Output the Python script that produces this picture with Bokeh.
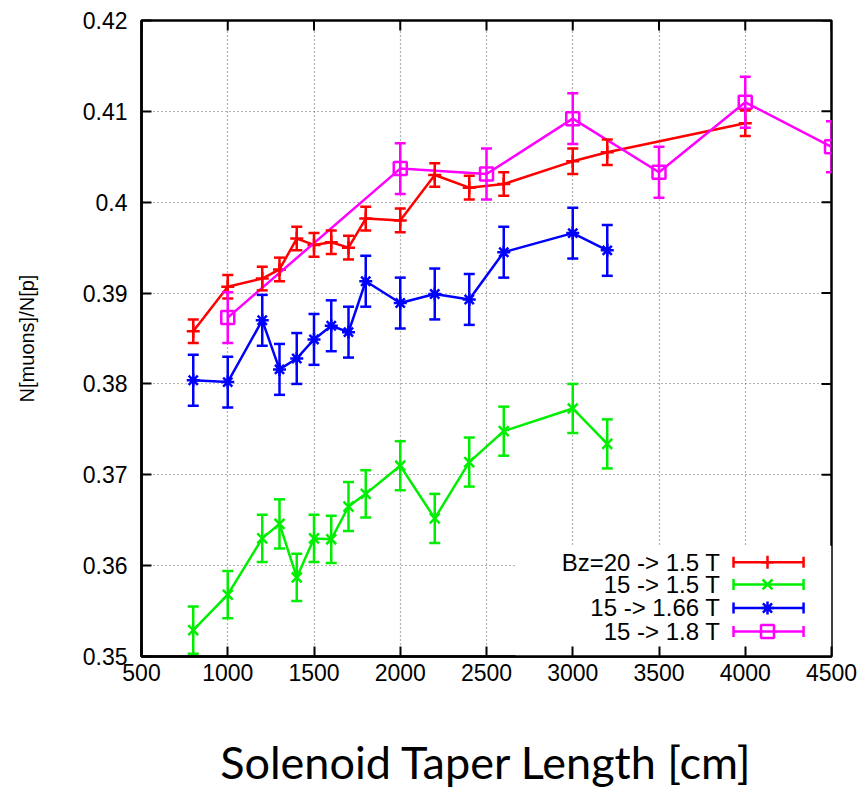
import math
from bokeh.plotting import figure
from bokeh.models import ColumnDataSource, Whisker, TeeHead, FixedTicker, Range1d
from bokeh.core.properties import value
from bokeh.embed import file_html
from bokeh.resources import INLINE

# ---------------- data ----------------
x_ticks = [500, 1000, 1500, 2000, 2500, 3000, 3500, 4000, 4500]
y_ticks = [0.35, 0.36, 0.37, 0.38, 0.39, 0.40, 0.41, 0.42]
y_tick_labels = ["0.35", "0.36", "0.37", "0.38", "0.39", "0.4", "0.41", "0.42"]

series_names = ["Bz=20 -> 1.5 T", "15 -> 1.5 T", "15 -> 1.66 T", "15 -> 1.8 T"]

red_x = [800, 1000, 1200, 1300, 1400, 1500, 1600, 1700, 1800, 2000, 2200, 2400, 2600, 3000, 3200, 4000]
red_y = [0.3858, 0.3907, 0.3916, 0.3926, 0.3960, 0.3953, 0.3956, 0.3950, 0.3982, 0.3980,
         0.4030, 0.4016, 0.4020, 0.4045, 0.4055, 0.4087]
red_err = [0.0013, 0.0013, 0.0013, 0.0013, 0.0013, 0.0013, 0.0013, 0.0013, 0.0013, 0.0013,
           0.0013, 0.0013, 0.0013, 0.0014, 0.0014, 0.0014]

green_x = [800, 1000, 1200, 1300, 1400, 1500, 1600, 1700, 1800, 2000, 2200, 2400, 2600, 3000, 3200]
green_y = [0.3529, 0.3568, 0.3630, 0.3646, 0.3587, 0.3630, 0.3629, 0.3665, 0.3679, 0.3710,
           0.3652, 0.3714, 0.3748, 0.3773, 0.3734]
green_err = [0.0026, 0.0026, 0.0026, 0.0027, 0.0026, 0.0026, 0.0026, 0.0027, 0.0026, 0.0027,
             0.0027, 0.0027, 0.0027, 0.0027, 0.0027]

blue_x = [800, 1000, 1200, 1300, 1400, 1500, 1600, 1700, 1800, 2000, 2200, 2400, 2600, 3000, 3200]
blue_y = [0.3804, 0.3802, 0.3870, 0.3816, 0.3828, 0.3849, 0.3864, 0.3857, 0.3913, 0.3889,
          0.3899, 0.3893, 0.3945, 0.3966, 0.3947]
blue_err = [0.0028, 0.0028, 0.0028, 0.0028, 0.0028, 0.0028, 0.0028, 0.0028, 0.0028, 0.0028,
            0.0028, 0.0028, 0.0028, 0.0028, 0.0028]

mag_x = [1000, 2000, 2500, 3000, 3500, 4000, 4500]
mag_y = [0.3873, 0.4037, 0.4031, 0.4092, 0.4033, 0.4110, 0.4061]
mag_err = [0.0028, 0.0028, 0.0028, 0.0028, 0.0028, 0.0028, 0.0028]

# ---------------- styling ----------------
colors = ["#ff0000", "#00ee00", "#0000ff", "#ff00ff"]
markers = ["cross", "x", "asterisk", "square"]
msizes = [13, 14, 13, 13]
LW = 2.5
TICK_FONT = "Liberation Sans"

p = figure(width=864, height=793,
           x_range=Range1d(500, 4500), y_range=Range1d(0.35, 0.42),
           output_backend="svg", toolbar_location=None,
           min_border_left=141, min_border_right=33,
           min_border_top=20, min_border_bottom=137)

p.background_fill_color = "white"
p.border_fill_color = "white"
p.outline_line_color = "black"
p.outline_line_width = 2.5

for ax in (p.xaxis[0], p.yaxis[0]):
    ax.axis_line_width = 2.5
    ax.axis_line_color = "black"
    ax.major_tick_in = 10
    ax.major_tick_out = 0
    ax.major_tick_line_width = 2
    ax.minor_tick_line_color = None
    ax.major_label_text_font = TICK_FONT
    ax.major_label_text_color = "black"
    ax.major_label_text_font_size = "23px"

p.xaxis[0].ticker = FixedTicker(ticks=x_ticks)
p.yaxis[0].ticker = FixedTicker(ticks=y_ticks)
p.yaxis[0].major_label_overrides = {t: l for t, l in zip(y_ticks, y_tick_labels)}
p.xaxis[0].major_label_standoff = 7
p.yaxis[0].major_label_standoff = 14

p.yaxis[0].axis_label = "N[muons]/N[p]"
p.yaxis[0].axis_label_text_font = TICK_FONT
p.yaxis[0].axis_label_text_font_style = "normal"
p.yaxis[0].axis_label_text_font_size = "20px"
p.yaxis[0].axis_label_text_color = "black"
p.yaxis[0].axis_label_standoff = 42

p.xaxis[0].axis_label = "Solenoid Taper Length [cm]"
p.xaxis[0].axis_label_text_font = "Lato"
p.xaxis[0].axis_label_text_font_style = "normal"
p.xaxis[0].axis_label_text_font_size = "45px"
p.xaxis[0].axis_label_text_color = "black"
p.xaxis[0].axis_label_standoff = 51

p.xgrid.ticker = FixedTicker(ticks=x_ticks)
p.ygrid.ticker = FixedTicker(ticks=y_ticks)
for g in (p.xgrid[0], p.ygrid[0]):
    g.grid_line_color = "#666666"
    g.grid_line_dash = "1 3"
    g.grid_line_width = 1.2

# mirrored inward ticks on top and right edges (gnuplot "mirror")
p.ray(x=x_ticks, y=[y_ticks[-1]] * len(x_ticks), length=10, length_units="screen",
      angle=-math.pi / 2, line_color="black", line_width=2)
p.ray(x=[x_ticks[-1]] * len(y_ticks), y=y_ticks, length=10, length_units="screen",
      angle=math.pi, line_color="black", line_width=2)

# ---------------- data series ----------------
all_series = [(red_x, red_y, red_err), (green_x, green_y, green_err),
              (blue_x, blue_y, blue_err), (mag_x, mag_y, mag_err)]

for (xs, ys, es), c, m, s in zip(all_series, colors, markers, msizes):
    src = ColumnDataSource(dict(x=xs, y=ys,
                                lo=[y - e for y, e in zip(ys, es)],
                                hi=[y + e for y, e in zip(ys, es)]))
    p.line("x", "y", source=src, line_color=c, line_width=LW)
    w = Whisker(source=src, base="x", lower="lo", upper="hi",
                line_color=c, line_width=LW, level="glyph",
                lower_head=TeeHead(size=11, line_color=c, line_width=LW),
                upper_head=TeeHead(size=11, line_color=c, line_width=LW))
    p.add_layout(w)
    p.scatter("x", "y", source=src, marker=m, size=s, line_color=c,
              line_width=LW, fill_color=None)

# ---------------- key (gnuplot style, opaque box) ----------------
key_left, key_right, key_top = 2668, 4500, 0.3622
key_text_x = 3856
key_line_x0, key_line_x1, key_mark_x = 3932, 4338, 4129
key_rows = [0.36038, 0.35793, 0.35534, 0.35275]

p.quad(left=[key_left], right=[key_right], top=[key_top], bottom=[y_ticks[0]],
       fill_color="white", line_color=None)

p.text(x=[key_text_x] * 4, y=key_rows, text=series_names,
       text_align="right", text_baseline="middle",
       text_font=value(TICK_FONT), text_font_size="24px", text_color="black")

for yv, c, m, s in zip(key_rows, colors, markers, msizes):
    ksrc = ColumnDataSource(dict(y=[yv], x0=[key_line_x0], x1=[key_line_x1]))
    kw = Whisker(source=ksrc, base="y", lower="x0", upper="x1", dimension="width",
                 line_color=c, line_width=LW, level="overlay",
                 lower_head=TeeHead(size=11, line_color=c, line_width=LW),
                 upper_head=TeeHead(size=11, line_color=c, line_width=LW))
    p.add_layout(kw)
    p.scatter(x=[key_mark_x], y=[yv], marker=m, size=s, line_color=c,
              line_width=LW, fill_color=None)

open("out.html", "w").write(file_html(p, INLINE))
